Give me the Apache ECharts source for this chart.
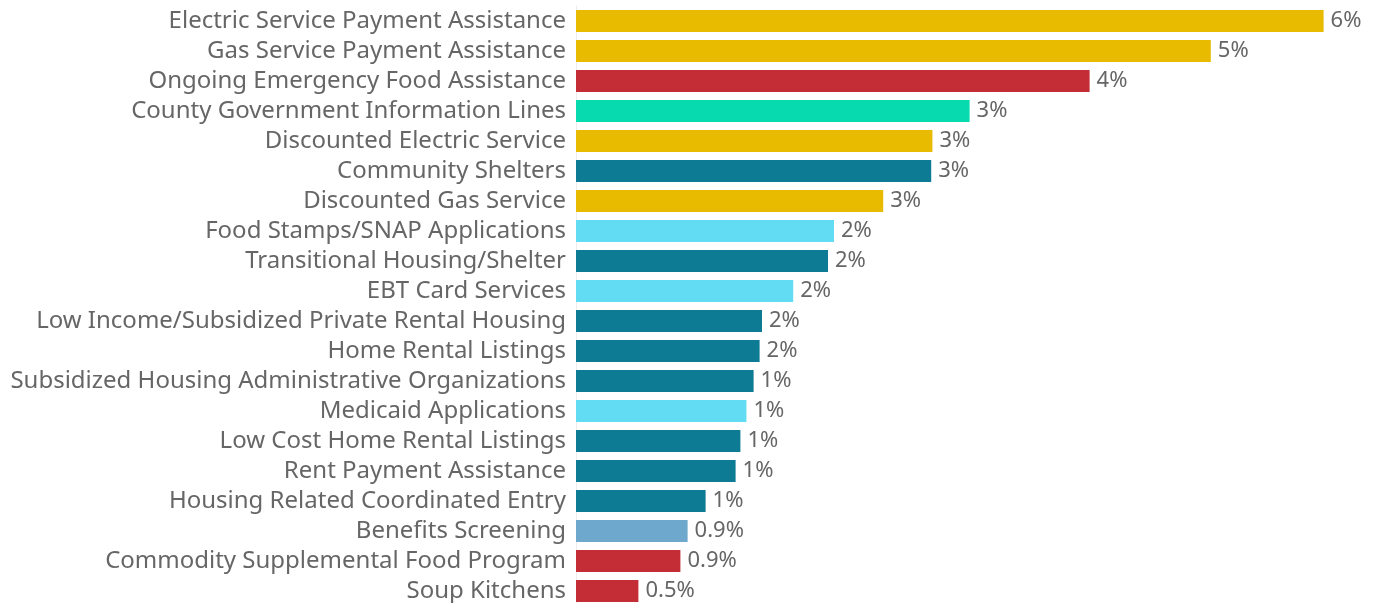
<!DOCTYPE html>
<html>
<head>
<meta charset="utf-8">
<script src="https://cdn.jsdelivr.net/npm/echarts@6/dist/echarts.min.js"></script>
<style>
  html, body { margin: 0; padding: 0; background: #fff; }
  #chart { width: 1382px; height: 603px; }
</style>
</head>
<body>
<div id="chart"></div>
<script>
const categories = [
  'Electric Service Payment Assistance',
  'Gas Service Payment Assistance',
  'Ongoing Emergency Food Assistance',
  'County Government Information Lines',
  'Discounted Electric Service',
  'Community Shelters',
  'Discounted Gas Service',
  'Food Stamps/SNAP Applications',
  'Transitional Housing/Shelter',
  'EBT Card Services',
  'Low Income/Subsidized Private Rental Housing',
  'Home Rental Listings',
  'Subsidized Housing Administrative Organizations',
  'Medicaid Applications',
  'Low Cost Home Rental Listings',
  'Rent Payment Assistance',
  'Housing Related Coordinated Entry',
  'Benefits Screening',
  'Commodity Supplemental Food Program',
  'Soup Kitchens'
]

// share of requests, in percent
const shares = [6.23, 5.29, 4.28, 3.28, 2.97, 2.96, 2.56, 2.15, 2.10, 1.81,
  1.55, 1.53, 1.48, 1.42, 1.37, 1.33, 1.08, 0.93, 0.87, 0.52]

const groups = ['utilities', 'utilities', 'food', 'info', 'utilities', 'housing', 'utilities', 'health', 'housing', 'health',
  'housing', 'housing', 'housing', 'health', 'housing', 'housing', 'housing', 'benefits', 'food', 'food']

const groupColors = {
  utilities: '#e8ba00',
  food: '#c42d35',
  info: '#08dab0',
  housing: '#0d7b94',
  health: '#62dcf3',
  benefits: '#6ea8cc'
}

function formatShare(v) {
  return (v >= 1 ? Math.round(v) : v.toFixed(1)) + '%'
}

const chart = echarts.init(document.getElementById('chart'), null, { renderer: 'canvas' })

const option = {
  animation: false,
  textStyle: { fontFamily: 'Noto Sans' },
  grid: {
    left: 576,
    top: 6,
    width: 780,
    height: 600,
    outerBoundsMode: 'none'
  },
  xAxis: {
    type: 'value',
    min: 0,
    max: 6.5,
    show: false
  },
  yAxis: {
    type: 'category',
    inverse: true,
    data: categories,
    axisLine: { show: true, lineStyle: { color: '#ececec', width: 1 } },
    axisTick: { show: false },
    axisLabel: {
      interval: 0,
      color: '#666',
      fontSize: 24,
      margin: 10
    }
  },
  series: [{
    type: 'bar',
    barWidth: 22,
    data: shares.map((v, i) => ({
      value: v,
      itemStyle: { color: groupColors[groups[i]] }
    })),
    label: {
      show: true,
      position: 'right',
      distance: 7,
      color: '#666',
      fontSize: 22,
      formatter: p => formatShare(p.value)
    }
  }]
}

chart.setOption(option)
</script>
</body>
</html>
